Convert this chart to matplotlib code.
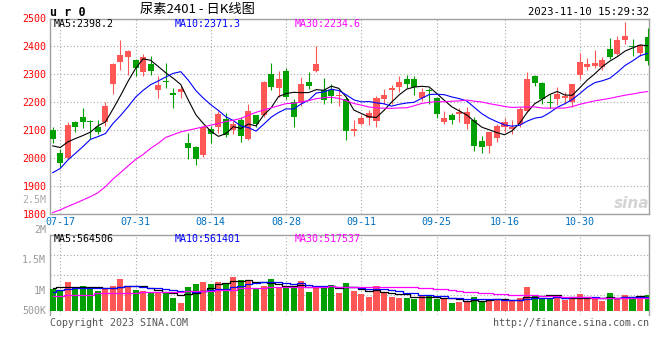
import matplotlib
matplotlib.use("Agg")
import matplotlib.pyplot as plt
import pandas as pd

# --- CONFIG ---
OUT_FILE = "out.png"
W, H = 660, 360
RED = "#ff5656"
GREEN = "#00a000"
GRID = "#a8a8a8"
FRAME = "#a0a0a0"
DATE_BLUE = "#0070c0"
MONO = ["DejaVu Sans Mono"]
CJK = ["Noto Sans CJK SC", "DejaVu Sans"]

# --- DATA ---
first_day = "2023-07-14"
last_day = "2023-11-10"
holidays = ["2023-09-29", "2023-10-02", "2023-10-03", "2023-10-04",
            "2023-10-05", "2023-10-06"]

opens = [2100, 2019, 2000, 2129, 2148, 2132, 2112, 2129, 2267, 2343,
         2362, 2352, 2307, 2336, 2243, 2276, 2235, 2237, 2053, 2041,
         2011, 2106, 2110, 2141, 2100, 2136, 2067, 2153, 2154, 2302,
         2252, 2312, 2202, 2198, 2273, 2312, 2243, 2243, 2224, 2210,
         2098, 2124, 2145, 2132, 2213, 2243, 2255, 2283, 2283, 2214,
         2245, 2217, 2128, 2153, 2157, 2122, 2138, 2060, 2043, 2072,
         2110, 2106, 2122, 2168, 2293, 2270, 2202, 2210, 2216, 2201,
         2297, 2326, 2329, 2326, 2392, 2374, 2424, 2402, 2376, 2433]
highs = [2110, 2031, 2128, 2133, 2180, 2138, 2138, 2202, 2340, 2424,
         2387, 2354, 2373, 2367, 2295, 2341, 2251, 2257, 2091, 2043,
         2114, 2114, 2168, 2160, 2133, 2148, 2193, 2155, 2276, 2341,
         2312, 2324, 2213, 2291, 2308, 2400, 2287, 2267, 2245, 2219,
         2138, 2154, 2172, 2222, 2249, 2263, 2293, 2299, 2293, 2252,
         2252, 2219, 2168, 2160, 2181, 2183, 2148, 2079, 2092, 2124,
         2145, 2136, 2183, 2308, 2299, 2274, 2231, 2255, 2237, 2267,
         2376, 2360, 2386, 2362, 2431, 2436, 2488, 2427, 2407, 2467]
lows = [2053, 1967, 1998, 2093, 2107, 2069, 2086, 2114, 2231, 2317,
        2299, 2295, 2295, 2299, 2216, 2252, 2179, 2216, 1997, 1975,
        2005, 2055, 2091, 2076, 2088, 2058, 2066, 2110, 2148, 2245,
        2219, 2213, 2112, 2186, 2248, 2307, 2193, 2198, 2186, 2064,
        2079, 2117, 2118, 2110, 2193, 2193, 2237, 2252, 2225, 2205,
        2193, 2144, 2122, 2124, 2129, 2106, 2026, 2019, 2017, 2057,
        2093, 2086, 2112, 2166, 2257, 2193, 2179, 2189, 2195, 2183,
        2285, 2314, 2324, 2317, 2356, 2368, 2407, 2364, 2364, 2332]
closes = [2067, 1981, 2117, 2110, 2129, 2128, 2095, 2187, 2338, 2370,
          2385, 2324, 2361, 2312, 2261, 2271, 2226, 2249, 2035, 1998,
          2112, 2088, 2157, 2083, 2124, 2079, 2168, 2124, 2274, 2255,
          2283, 2219, 2148, 2267, 2257, 2336, 2207, 2222, 2227, 2098,
          2106, 2145, 2163, 2217, 2225, 2252, 2274, 2267, 2255, 2238,
          2241, 2157, 2145, 2138, 2164, 2167, 2043, 2041, 2092, 2114,
          2129, 2112, 2177, 2285, 2270, 2210, 2198, 2231, 2222, 2264,
          2344, 2338, 2342, 2352, 2362, 2424, 2436, 2398, 2406, 2348]

# volume in thousand lots
volumes_k = [858, 793, 1144, 949, 975, 884, 793, 858, 975, 1248,
             975, 806, 780, 754, 754, 689, 520, 325, 949, 1053,
             1144, 1066, 1144, 1105, 1339, 1209, 1209, 884, 975, 1248,
             949, 884, 884, 1170, 754, 936, 975, 1014, 715, 1105,
             793, 663, 559, 975, 715, 559, 520, 520, 468, 585,
             624, 468, 468, 325, 364, 390, 559, 390, 468, 468,
             390, 390, 520, 936, 585, 520, 468, 559, 416, 520,
             663, 468, 468, 390, 702, 494, 624, 559, 520, 624]

# moving average values at the left edge (history before the window is not shown)
ma5_head = [2044, 2038, 2058, 2070]
ma10_head = [1948, 1963, 1993, 2017, 2041, 2067, 2077, 2088, 2124]
ma30_head = [1805, 1815, 1827, 1838, 1850, 1862, 1876, 1898, 1925, 1948,
             1972, 1995, 2013, 2035, 2053, 2074, 2084, 2094, 2100, 2106,
             2112, 2118, 2124, 2131, 2136, 2142, 2154, 2164, 2172]
vol_ma5_head = [884, 923, 936, 936]
vol_ma10_head = [754, 819, 858, 884, 884, 897, 897, 910, 910]
vol_ma30_head = [598, 598, 624, 624, 624, 624, 689, 689, 689, 689,
                 689, 689, 741, 741, 741, 741, 741, 741, 780, 780,
                 780, 780, 819, 819, 819, 884, 884, 884, 884]

price_ticks = [1800, 1900, 2000, 2100, 2200, 2300, 2400, 2500]
date_ticks = ["07-17", "07-31", "08-14", "08-28", "09-11", "09-25", "10-16", "10-30"]
vol_labels = ["2M", "1.5M", "1M", "500K"]

title = "尿素2401 - 日K线图"
symbol = "u r 0"
stamp = "2023-11-10 15:29:32"
price_ma_text = ["MA5:2398.2", "MA10:2371.3", "MA30:2234.6"]
vol_ma_text = ["MA5:564506", "MA10:561401", "MA30:517537"]
ma_colors = ["black", "#0000ff", "#ff00ff"]


def moving_average(values, window, head):
    ma = pd.Series(values, dtype=float).rolling(window).mean()
    ma.iloc[:len(head)] = head
    return ma


def box(left, top, right, bottom):
    # pixel box -> figure fraction rect
    return [left / W, 1 - bottom / H, (right - left) / W, (bottom - top) / H]


def ftext(x, y, s, **kw):
    kw.setdefault("family", MONO)
    kw.setdefault("fontsize", 7.2)
    kw.setdefault("va", "center")
    fig.text(x / W, 1 - y / H, s, **kw)


# --- DATES ---
days = pd.bdate_range(first_day, last_day)
days = days[~days.isin(pd.to_datetime(holidays))]
labels = list(days.strftime("%m-%d"))
tick_idx = [labels.index(t) for t in date_ticks]
n = len(closes)
x = list(range(n))

colors = [RED if c >= o else GREEN for o, c in zip(opens, closes)]
body_low = [min(o, c) for o, c in zip(opens, closes)]
body_h = [max(abs(c - o), 3) for o, c in zip(opens, closes)]
volumes = [v * 1000 for v in volumes_k]

fig = plt.figure(figsize=(W / 100, H / 100), dpi=100)
fig.patch.set_facecolor("white")

# --- PRICE PANEL ---
ax = fig.add_axes(box(50, 18.5, 649, 214))
ax.vlines(x, lows, highs, colors=colors, linewidth=0.8, zorder=3)
ax.bar(x, body_h, bottom=body_low, width=0.8, color=colors, linewidth=0, zorder=4)

price_mas = [moving_average(closes, 5, ma5_head),
             moving_average(closes, 10, ma10_head),
             moving_average(closes, 30, ma30_head)]
for ma, col in zip(price_mas, ma_colors):
    ax.plot(x, ma, color=col, linewidth=0.8, zorder=5)

ax.set_xlim(-0.36, n - 1 + 0.19)
ax.set_ylim(price_ticks[0], price_ticks[-1])
ax.set_yticks(price_ticks)
ax.set_yticklabels([str(p) for p in price_ticks], color="#ff0000",
                   fontsize=7.2, family=MONO)
ax.set_xticks(tick_idx)
ax.set_xticklabels(date_ticks, color=DATE_BLUE, fontsize=7.2, family=MONO)
ax.tick_params(length=0, pad=2.5)
ax.tick_params(axis="x", pad=2)
ax.grid(True, color=GRID, linestyle=(0, (1, 2)), linewidth=0.8)
ax.set_axisbelow(True)
for sp in ax.spines.values():
    sp.set_color(FRAME)
    sp.set_linewidth(1)

# --- VOLUME PANEL ---
axv = fig.add_axes(box(50, 235, 649, 315))
axv.bar(x, volumes, width=0.8, color=colors, linewidth=0, zorder=3)
vol_mas = [moving_average(volumes_k, 5, vol_ma5_head) * 1000,
           moving_average(volumes_k, 10, vol_ma10_head) * 1000,
           moving_average(volumes_k, 30, vol_ma30_head) * 1000]
for ma, col in zip(vol_mas, ma_colors):
    axv.plot(x, ma, color=col, linewidth=0.9, drawstyle="steps-mid", zorder=4)

vlo, vhi = -0.156e6, 2.964e6
axv.set_xlim(ax.get_xlim())
axv.set_ylim(vlo, vhi)
axv.set_xticks(tick_idx)
axv.set_xticklabels([])
axv.set_yticks([vlo + f * (vhi - vlo) for f in (0.25, 0.5, 0.75)])
axv.set_yticklabels([])
axv.tick_params(length=0)
axv.grid(True, color=GRID, linestyle=(0, (1, 2)), linewidth=0.8)
axv.set_axisbelow(True)
for name, sp in axv.spines.items():
    sp.set_color(FRAME)
    sp.set_linewidth(1)
axv.spines["bottom"].set_visible(False)

# --- TEXTS ---
ftext(50, 12, symbol, fontweight="bold", fontsize=8.5)
ftext(140, 9.5, title, family=CJK, fontsize=9.5)
ftext(649, 12, stamp, ha="right", fontsize=7.6)

for s, col, px in zip(price_ma_text, ma_colors, [54, 175, 295]):
    ftext(px, 24, s, color=col)
for s, col, px in zip(vol_ma_text, ma_colors, [54, 175, 295]):
    ftext(px, 239, s, color=col)

# sina prints the volume scale labels unevenly
for s, py in zip(vol_labels, [230, 260, 291, 311]):
    ftext(46, py, s, ha="right", color="#999999")
ftext(46, 200, "2.5M", ha="right", color="#aaaaaa")

ftext(50, 323.5, "Copyright 2023 SINA.COM", color="#555555")
ftext(649, 323.5, "http://finance.sina.com.cn", ha="right", color="#555555")
ftext(649, 203, "sina", ha="right", family=["DejaVu Sans"], fontsize=11,
      style="italic", fontweight="bold", color="#d4d4d4")

fig.savefig(OUT_FILE, dpi=100)
